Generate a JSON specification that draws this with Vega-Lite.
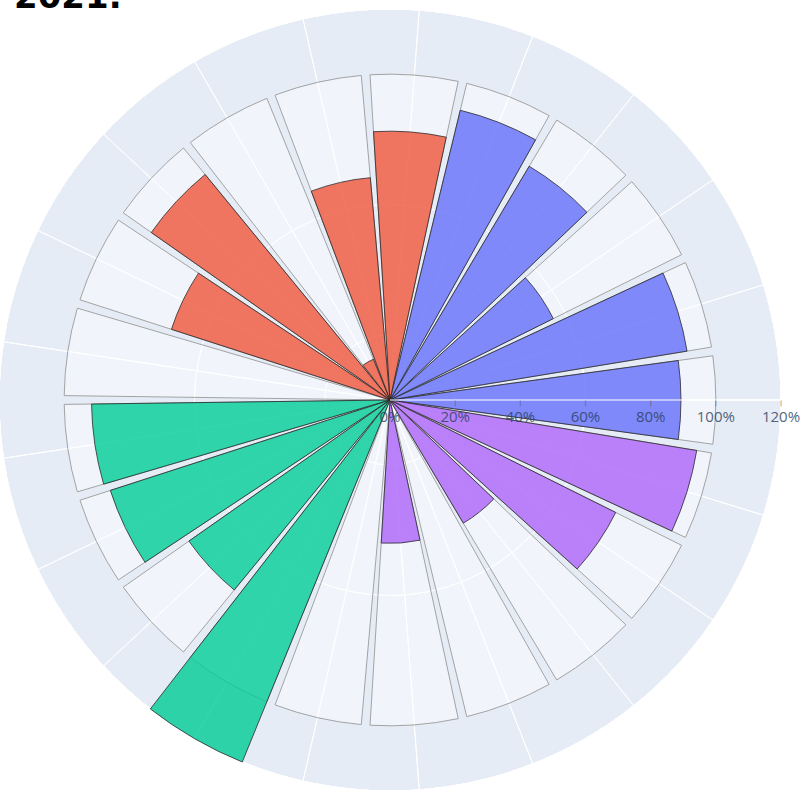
{
  "$schema": "https://vega.github.io/schema/vega-lite/v6.json",
  "width": 780,
  "height": 780,
  "autosize": {"type": "none"},
  "padding": {"left": 0, "top": 10, "right": 27, "bottom": 0},
  "background": "white",
  "title": {"text": "2021.", "anchor": "start", "frame": "group", "font": "DejaVu Sans", "fontSize": 34, "fontWeight": "bold", "color": "#000000", "dx": 14, "offset": -35, "baseline": "alphabetic"},
  "config": {"view": {"stroke": null}},
  "datasets": {
    "bars": [
      {"k": 0, "value": 89.3, "group": "Group 1"},
      {"k": 1, "value": 92.4, "group": "Group 1"},
      {"k": 2, "value": 56, "group": "Group 1"},
      {"k": 3, "value": 83.5, "group": "Group 1"},
      {"k": 4, "value": 91.5, "group": "Group 1"},
      {"k": 5, "value": 82.5, "group": "Group 2"},
      {"k": 6, "value": 68.5, "group": "Group 2"},
      {"k": 7, "value": 13.5, "group": "Group 2"},
      {"k": 8, "value": 89.5, "group": "Group 2"},
      {"k": 9, "value": 70.5, "group": "Group 2"},
      {"k": 10, "value": 0, "group": "Group 2"},
      {"k": 11, "value": 91.6, "group": "Group 3"},
      {"k": 12, "value": 90.2, "group": "Group 3"},
      {"k": 13, "value": 75.4, "group": "Group 3"},
      {"k": 14, "value": 120, "group": "Group 3"},
      {"k": 15, "value": 0, "group": "Group 3"},
      {"k": 16, "value": 44, "group": "Group 4"},
      {"k": 17, "value": 0, "group": "Group 4"},
      {"k": 18, "value": 44, "group": "Group 4"},
      {"k": 19, "value": 77.4, "group": "Group 4"},
      {"k": 20, "value": 95.4, "group": "Group 4"}
    ],
    "rings": [{"r": 20}, {"r": 40}, {"r": 60}, {"r": 80}, {"r": 100}],
    "ticks": [
      {"v": 0, "label": "0%"},
      {"v": 20, "label": "20%"},
      {"v": 40, "label": "40%"},
      {"v": 60, "label": "60%"},
      {"v": 80, "label": "80%"},
      {"v": 100, "label": "100%"},
      {"v": 120, "label": "120%"}
    ]
  },
  "resolve": {"scale": {"theta": "independent"}},
  "layer": [
    {
      "data": {"values": [{"r": 120}]},
      "mark": {"type": "arc", "fill": "#E5ECF6", "stroke": null},
      "encoding": {
        "theta": {"value": 0},
        "theta2": {"value": 6.2832},
        "radius": {"field": "r", "type": "quantitative", "scale": {"type": "linear", "domain": [0, 120], "range": [0, 391], "zero": true, "clamp": true}}
      }
    },
    {
      "data": {"name": "rings"},
      "mark": {"type": "arc", "filled": false, "stroke": "#FFFFFF", "strokeWidth": 1},
      "encoding": {
        "theta": {"value": 0},
        "theta2": {"value": 6.2832},
        "radius": {"field": "r", "type": "quantitative"}
      }
    },
    {
      "data": {"name": "bars"},
      "mark": {"type": "arc", "filled": false, "stroke": "#FFFFFF", "strokeWidth": 1},
      "encoding": {
        "theta": {"field": "k", "type": "quantitative", "stack": null, "scale": {"domain": [0, 21], "range": [1.5707963, -4.712389]}},
        "theta2": {"field": "k"},
        "radius": {"datum": 120, "type": "quantitative"}
      }
    },
    {
      "data": {"name": "bars"},
      "mark": {"type": "arc", "fill": "#FFFFFF", "fillOpacity": 0.45, "stroke": "#A3A3A3", "strokeWidth": 1},
      "encoding": {
        "theta": {"field": "k", "type": "ordinal", "scale": {"type": "band", "range": [1.720396, -4.5627893], "paddingInner": 0.09, "paddingOuter": 0.045}},
        "radius": {"datum": 100, "type": "quantitative"}
      }
    },
    {
      "data": {"name": "bars"},
      "mark": {"type": "arc", "fillOpacity": 0.8, "stroke": "#2A2A2A", "strokeWidth": 0.8},
      "encoding": {
        "theta": {"field": "k", "type": "ordinal", "scale": {"type": "band", "range": [1.720396, -4.5627893], "paddingInner": 0.09, "paddingOuter": 0.045}},
        "radius": {"field": "value", "type": "quantitative"},
        "color": {"field": "group", "type": "nominal", "legend": null, "scale": {"domain": ["Group 1", "Group 2", "Group 3", "Group 4"], "range": ["#636EFA", "#EF553B", "#00CC96", "#AB63FA"]}}
      }
    },
    {
      "data": {"values": [{"r": 120}]},
      "mark": {"type": "arc", "filled": false, "stroke": "#FFFFFF", "strokeWidth": 1.2},
      "encoding": {
        "theta": {"value": 1.5707963},
        "theta2": {"value": 1.5707963},
        "radius": {"field": "r", "type": "quantitative"}
      }
    },
    {
      "data": {"name": "ticks"},
      "mark": {"type": "text", "text": "|", "font": "DejaVu Sans", "fontSize": 6, "baseline": "top", "align": "center", "color": "#555555"},
      "encoding": {
        "theta": {"value": 1.5707963},
        "radius": {"field": "v", "type": "quantitative"}
      }
    },
    {
      "data": {"name": "ticks"},
      "mark": {"type": "text", "font": "Open Sans", "fontSize": 15, "baseline": "top", "align": "center", "dy": 10, "color": "#2A3F5F", "opacity": 0.8},
      "encoding": {
        "theta": {"value": 1.5707963},
        "radius": {"field": "v", "type": "quantitative"},
        "text": {"field": "label"}
      }
    }
  ]
}
